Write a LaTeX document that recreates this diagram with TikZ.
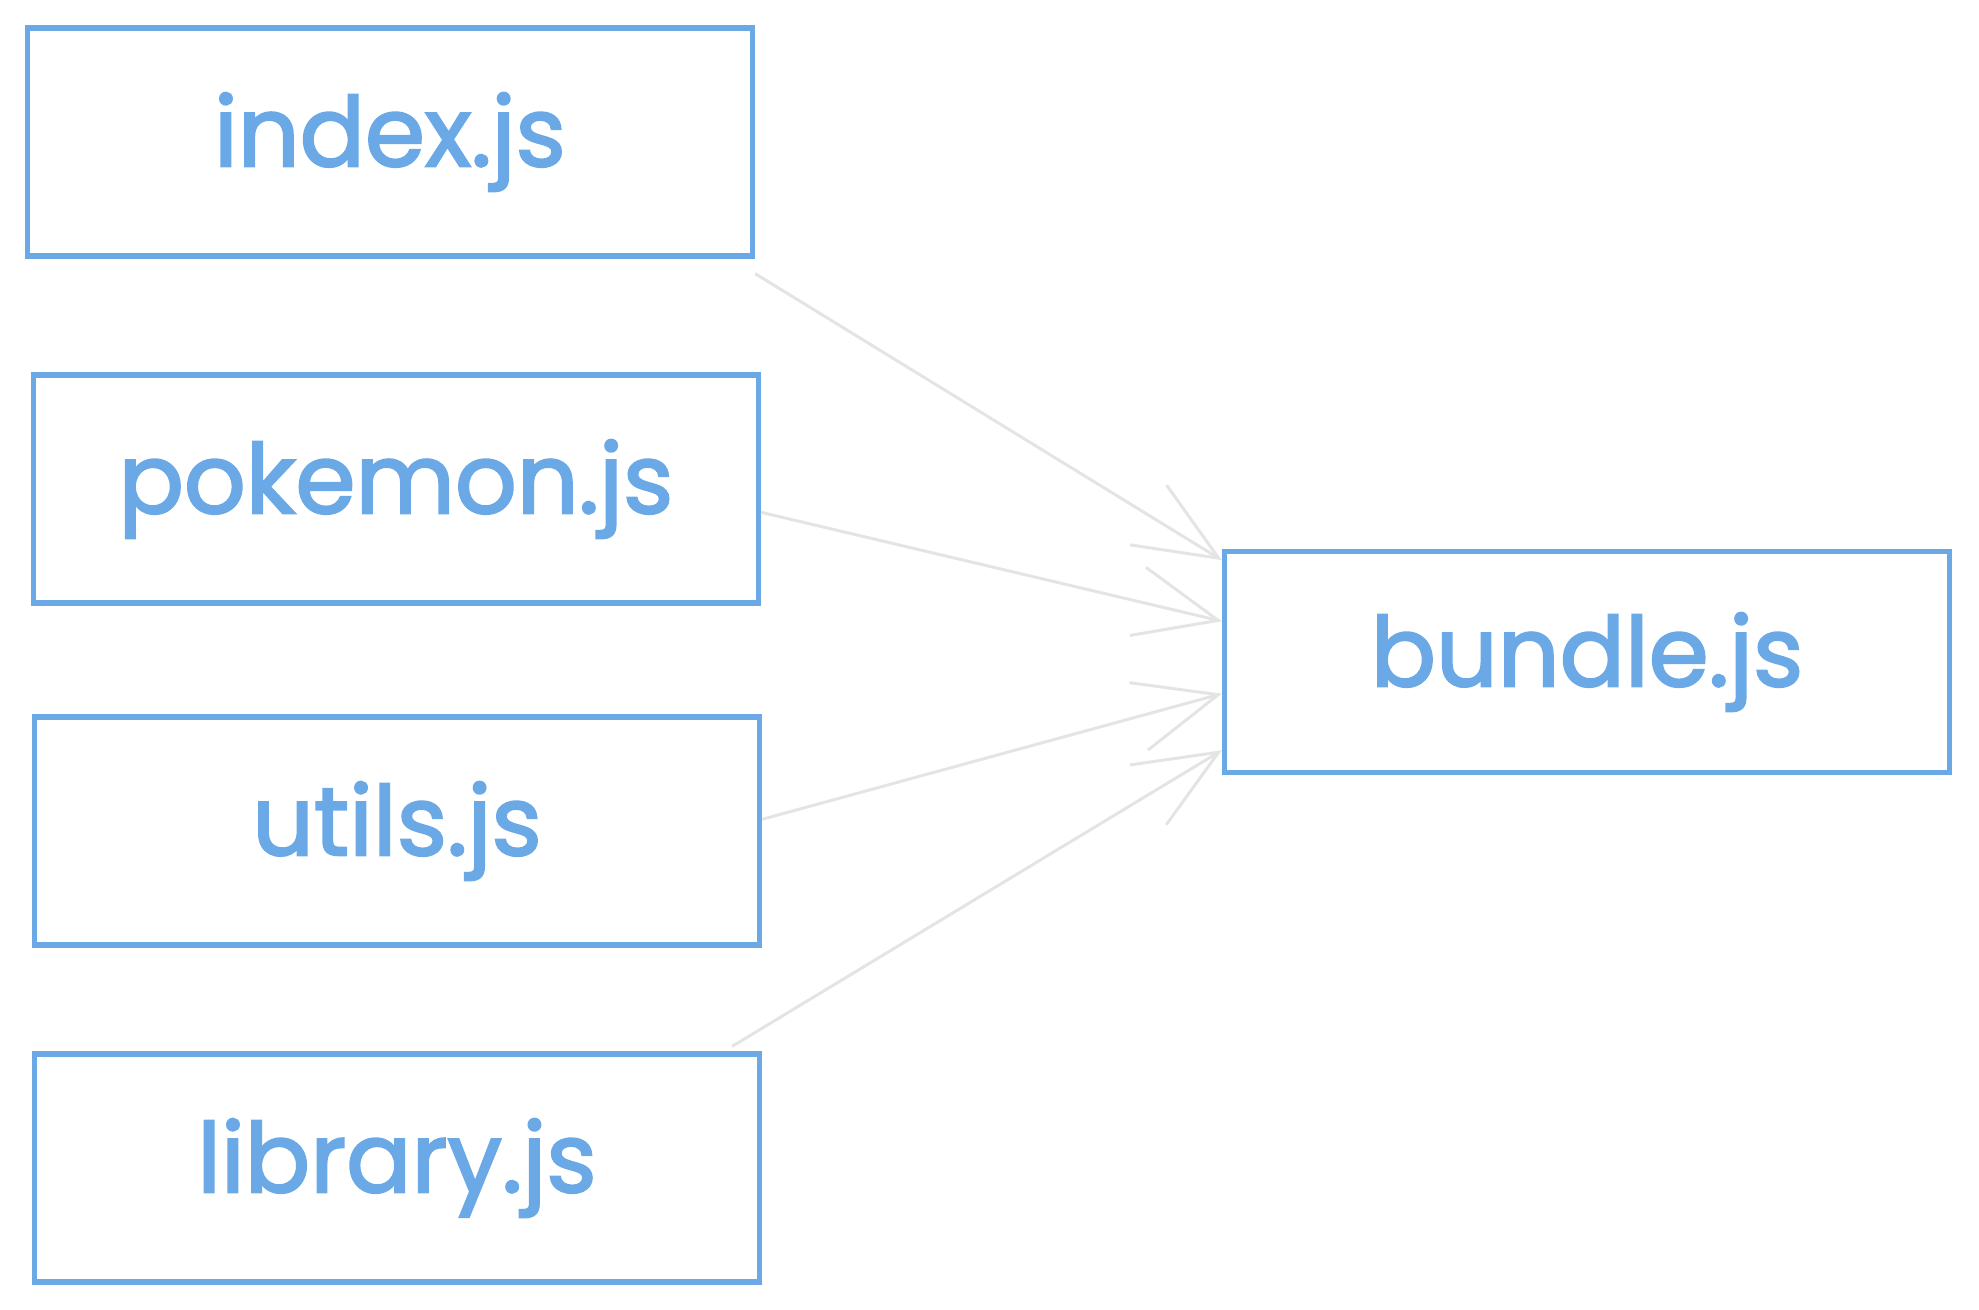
\documentclass[tikz,border=0pt]{standalone}
\usepackage{fontspec}
\setmainfont{Poppins}[FakeBold=2.2]
\usetikzlibrary{arrows.meta,calc}
\definecolor{sketchblue}{HTML}{6AA9E6}
\definecolor{arrowgrey}{HTML}{E4E4E4}
\begin{document}
\begin{tikzpicture}[x=0.02cm,y=-0.02cm]
\tikzstyle{every node}=[draw=sketchblue,line width=3pt,shape=rectangle,text=sketchblue,font=\fontsize{55}{66}\selectfont,minimum width=14.5cm,minimum height=4.56cm,inner sep=0pt];
\tikzstyle{pfeil}=[draw=arrowgrey,line width=1.7pt,-{Straight Barb[length=1.65cm,width=1.4cm]}];
\useasboundingbox (0,0) rectangle (1979,1310);
\node (index) at (390,142) {index.js};
\node (pokemon) at (396,489) {pokemon.js};
\node (utils) at (397,831) {utils.js};
\node (library) at (397,1168) {library.js};
\node[minimum height=4.42cm] (bundle) at (1587,662) {bundle.js};
\draw[pfeil] ([yshift=-0.3cm]index.south east) -- ($(bundle.north west)!0.05!(bundle.south west)$);
\draw[pfeil] ($(pokemon.north east)!0.6!(pokemon.south east)$) -- ($(bundle.north west)!0.32!(bundle.south west)$);
\draw[pfeil] ($(utils.north east)!0.45!(utils.south east)$) -- ($(bundle.north west)!0.64!(bundle.south west)$);
\draw[pfeil] ([xshift=-0.6cm,yshift=0.1cm]library.north east) -- ($(bundle.north west)!0.89!(bundle.south west)$);
\end{tikzpicture}
\end{document}
